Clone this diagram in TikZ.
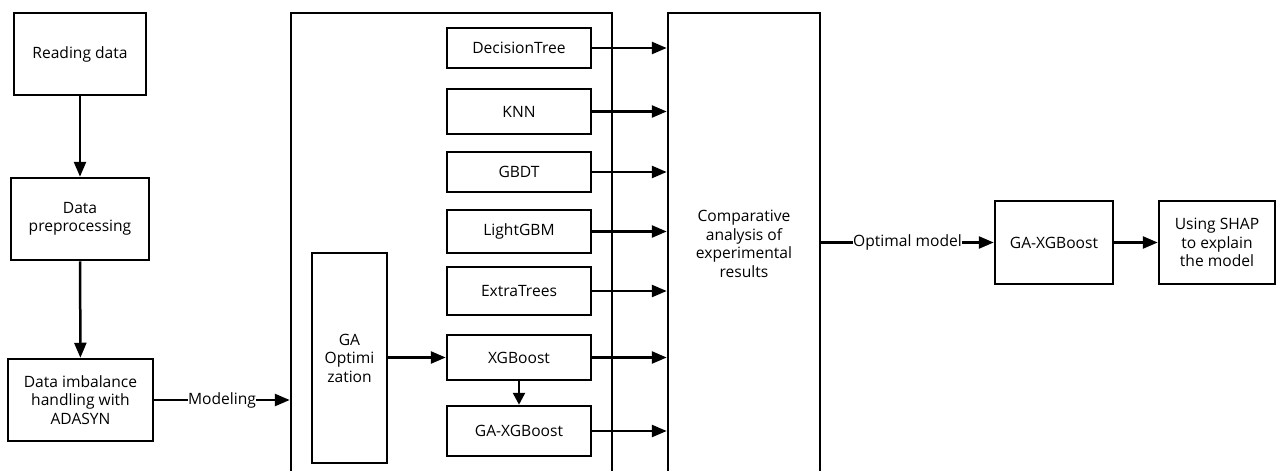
\documentclass[tikz,border=0pt]{standalone}
\usepackage{fontspec}
\setmainfont{Open Sans}
\usetikzlibrary{arrows.meta}

\begin{document}
\begin{tikzpicture}[x=1pt, y=-1pt, line width=2.5pt, >={Triangle[length=15pt, width=12pt]}]
	\tikzstyle{box} = [draw, align=center, inner sep=2pt, font=\fontsize{15.6}{18.5}\selectfont]
	\tikzstyle{lbl} = [midway, fill=white, inner sep=0pt, font=\fontsize{15.6}{18.5}\selectfont]
	\clip (0,0) rectangle (1277,471);
	\node[box, minimum width=132pt, minimum height=82pt] (Read) at (80,54) {Reading data};
	\node[box, minimum width=138pt, minimum height=82pt] (Prep) at (80,219) {Data\\preprocessing};
	\node[box, minimum width=145pt, minimum height=82pt] (Imb) at (80.5,400) {Data imbalance\\handling with\\ADASYN};
	\node[box, minimum width=321pt, minimum height=462pt] (Panel) at (451.5,244) {};
	\node[box, minimum width=75pt, minimum height=210pt] (GAO) at (349.5,358) {GA\\Optimi\\zation};
	\node[box, minimum width=144pt, minimum height=40pt] (DT) at (519,48) {DecisionTree};
	\node[box, minimum width=144pt, minimum height=45pt] (KNN) at (519,111.5) {KNN};
	\node[box, minimum width=144pt, minimum height=40pt] (GBDT) at (519,172) {GBDT};
	\node[box, minimum width=144pt, minimum height=43pt] (LGBM) at (519,231.5) {LightGBM};
	\node[box, minimum width=144pt, minimum height=48pt] (ET) at (519,291) {ExtraTrees};
	\node[box, minimum width=144pt, minimum height=45pt] (XGB) at (519,357.5) {XGBoost};
	\node[box, minimum width=144pt, minimum height=50pt] (GAXGB) at (519,431) {GA-XGBoost};
	\node[box, minimum width=152pt, minimum height=462pt] (Comp) at (744,244) {Comparative\\analysis of\\experimental\\results};
	\node[box, minimum width=118pt, minimum height=83pt] (Best) at (1054,242.5) {GA-XGBoost};
	\node[box, minimum width=116pt, minimum height=83pt] (SHAP) at (1217,242.5) {Using SHAP\\to explain\\the model};
	\draw [->] (Read)--(Prep);
	\draw [->] (Prep)--(Imb);
	\draw [->] (Imb.east)--(Imb.east -| Panel.west) node[lbl] {Modeling};
	\draw [->] (GAO.east |- XGB)--(XGB);
	\draw [->, >={Triangle[length=12pt, width=12pt]}] (XGB)--(GAXGB);
	\draw [->] (DT)--(DT -| Comp.west);
	\draw [->] (KNN)--(KNN -| Comp.west);
	\draw [->] (GBDT)--(GBDT -| Comp.west);
	\draw [->] (LGBM)--(LGBM -| Comp.west);
	\draw [->] (ET)--(ET -| Comp.west);
	\draw [->] (XGB)--(XGB -| Comp.west);
	\draw [->] (GAXGB)--(GAXGB -| Comp.west);
	\draw [->] (Comp.east |- Best)--(Best) node[lbl] {Optimal model};
	\draw [->] (Best)--(SHAP);
\end{tikzpicture}
\end{document}
